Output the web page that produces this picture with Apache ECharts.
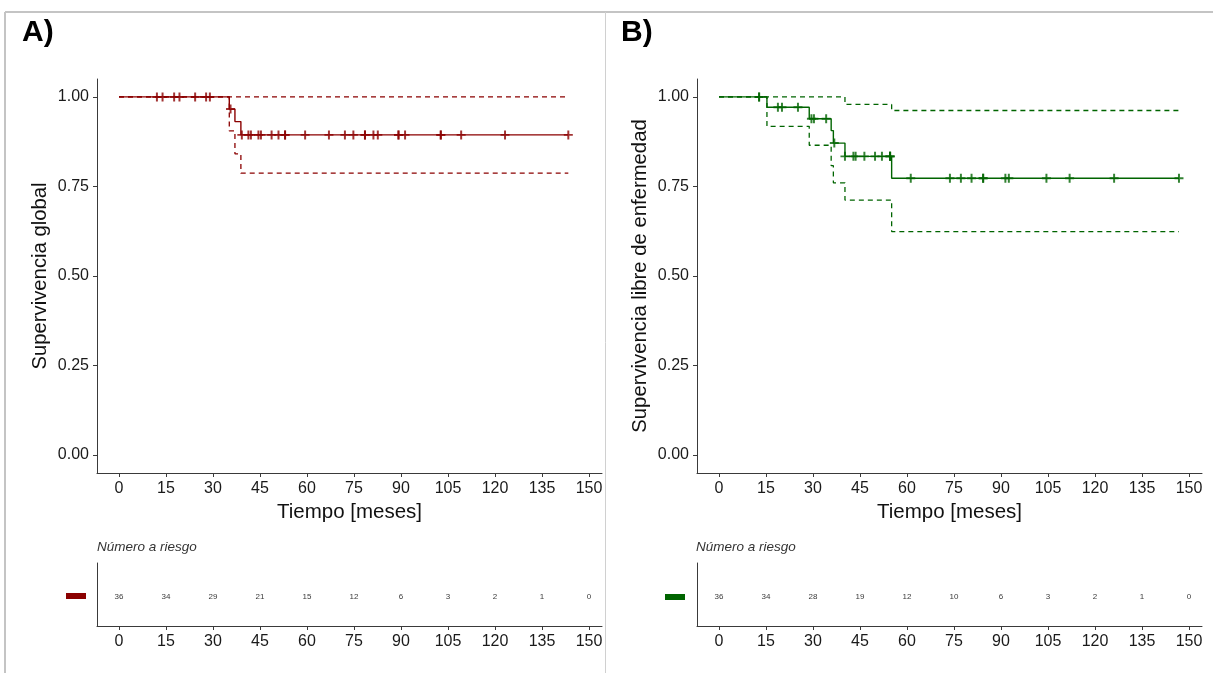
<!DOCTYPE html>
<html><head><meta charset="utf-8">
<script src="https://cdn.jsdelivr.net/npm/echarts@6/dist/echarts.min.js"></script>
<style>html,body{margin:0;padding:0;background:#fff}#c{width:1213px;height:673px}</style>
</head><body><div id="c"></div>
<script>
// ---------- data ----------
const xTicks = [0, 15, 30, 45, 60, 75, 90, 105, 120, 135, 150];
const yTicks = [0, 0.25, 0.5, 0.75, 1];

// A) Supervivencia global
const osSteps = [[0, 1], [35.2, 0.966], [37.0, 0.931], [38.9, 0.894]];
const osLower = [[0, 1], [35.2, 0.905], [37.0, 0.841], [38.9, 0.787]];
const osUpper = [[0, 1]];
const osEnd = 143.4;
const osCensor = [12.1, 13.9, 17.6, 19.3, 24.3, 27.8, 29.0, 35.6, 39.2, 41.3, 42.1, 44.5, 45.3, 48.7, 50.9, 53.0, 53.0,
  59.4, 67.0, 72.1, 74.8, 78.5, 78.5, 81.2, 82.6, 89.2, 89.2, 91.3, 102.7, 102.7, 109.2, 123.2, 143.4];
const osRisk = [36, 34, 29, 21, 15, 12, 6, 3, 2, 1, 0];

// B) Supervivencia libre de enfermedad
const dfsSteps = [[0, 1], [15.3, 0.971], [28.8, 0.939], [35.8, 0.906], [36.5, 0.871], [40.2, 0.834], [55.1, 0.773]];
const dfsLower = [[0, 1], [15.3, 0.918], [28.8, 0.865], [35.8, 0.808], [36.5, 0.760], [40.2, 0.712], [55.1, 0.624]];
const dfsUpper = [[0, 1], [40.2, 0.979], [55.1, 0.962]];
const dfsEnd = 146.8;
const dfsCensor = [12.8, 12.8, 18.8, 20.1, 25.2, 29.5, 30.3, 34.2, 36.8, 40.2, 42.9, 43.6, 46.4, 49.8, 52.0, 54.6, 54.6, 54.6,
  61.2, 73.7, 77.2, 80.6, 84.3, 84.3, 91.4, 92.5, 104.5, 111.9, 126.1, 146.8];
const dfsRisk = [36, 34, 28, 19, 12, 10, 6, 3, 2, 1, 0];

// ---------- helpers ----------
const FONT = '"Liberation Sans", Arial, sans-serif';
const RED = '#8B0000', GREEN = '#006400';
const PX = 470 / 150;                 // pixels per month
const XMIN = -22 / PX, XMAX = (602 - 119) / PX;

function extend(steps, end) { return steps.concat([[end, steps[steps.length - 1][1]]]); }
function stepAt(steps, t) {
  let v = steps[0][1];
  for (const s of steps) { if (s[0] <= t) v = s[1]; }
  return v;
}

function xAxis(gi, named) {
  return {
    type: 'value', gridIndex: gi, min: XMIN, max: XMAX,
    axisLine: { show: true, onZero: false, lineStyle: { color: '#3a3a3a', width: 1 } },
    axisTick: { show: true, customValues: xTicks, length: 4, lineStyle: { color: '#3a3a3a' } },
    axisLabel: { customValues: xTicks, fontSize: 16, color: '#1a1a1a', margin: 8, fontFamily: FONT },
    splitLine: { show: false },
    name: named ? 'Tiempo [meses]' : '', nameLocation: 'middle', nameGap: 29,
    nameTextStyle: { fontSize: 20.5, color: '#111', fontFamily: FONT }
  };
}
function yAxisMain(gi, name) {
  return {
    type: 'value', gridIndex: gi, min: -0.05, max: 1.05,
    axisLine: { show: true, onZero: false, lineStyle: { color: '#3a3a3a', width: 1 } },
    axisTick: { show: true, customValues: yTicks, length: 4, lineStyle: { color: '#3a3a3a' } },
    axisLabel: { customValues: yTicks, fontSize: 16, color: '#1a1a1a', margin: 8, fontFamily: FONT,
      formatter: v => v.toFixed(2) },
    splitLine: { show: false },
    name: name, nameLocation: 'middle', nameGap: 47, nameRotate: 90,
    nameTextStyle: { fontSize: 20.3, color: '#111', fontFamily: FONT }
  };
}
function yAxisRisk(gi) {
  return {
    type: 'value', gridIndex: gi, min: 0, max: 1,
    axisLine: { show: true, onZero: false, lineStyle: { color: '#3a3a3a', width: 1 } },
    axisTick: { show: false }, axisLabel: { show: false }, splitLine: { show: false }
  };
}
const PLUS = 'path://M-0.22,-1 L0.22,-1 L0.22,-0.22 L1,-0.22 L1,0.22 L0.22,0.22 L0.22,1 L-0.22,1 L-0.22,0.22 L-1,0.22 L-1,-0.22 L-0.22,-0.22 Z';

function kmSeries(ax, steps, lower, upper, end, censor, color) {
  const line = (data, dashed) => ({
    type: 'line', xAxisIndex: ax, yAxisIndex: ax, step: 'end', symbol: 'none', silent: true,
    data: extend(data, end), z: dashed ? 2 : 3,
    lineStyle: { color: color, width: dashed ? 1.3 : 1.4, type: dashed ? [5, 4] : 'solid' }
  });
  return [
    line(upper, true), line(lower, true), line(steps, false),
    { type: 'scatter', xAxisIndex: ax, yAxisIndex: ax, symbol: PLUS, symbolSize: 9, z: 4, silent: true,
      itemStyle: { color: color }, data: censor.map(t => [t, stepAt(steps, t)]) }
  ];
}
function riskSeries(ax, risk) {
  return {
    type: 'scatter', xAxisIndex: ax, yAxisIndex: ax, symbolSize: 0, silent: true,
    data: xTicks.map((t, i) => [t, 0.47, risk[i]]),
    label: { show: true, position: 'inside', formatter: p => String(p.data[2]), fontSize: 8, color: '#000', fontFamily: FONT }
  };
}

const chart = echarts.init(document.getElementById('c'), null, { renderer: 'canvas' });
chart.setOption({
  backgroundColor: '#ffffff',
  animation: false,
  grid: [
    { left: 97, top: 79, width: 505, height: 394 },
    { left: 97, top: 563, width: 505, height: 63 },
    { left: 697, top: 79, width: 505, height: 394 },
    { left: 697, top: 563, width: 505, height: 63 }
  ],
  xAxis: [xAxis(0, true), xAxis(1, false), xAxis(2, true), xAxis(3, false)],
  yAxis: [yAxisMain(0, 'Supervivencia global'), yAxisRisk(1), yAxisMain(2, 'Supervivencia libre de enfermedad'), yAxisRisk(3)],
  series: [
    ...kmSeries(0, osSteps, osLower, osUpper, osEnd, osCensor, RED),
    riskSeries(1, osRisk),
    ...kmSeries(2, dfsSteps, dfsLower, dfsUpper, dfsEnd, dfsCensor, GREEN),
    riskSeries(3, dfsRisk)
  ],
  graphic: [
    { type: 'line', shape: { x1: 5, y1: 12, x2: 1213, y2: 12 }, style: { stroke: '#c4c4c4', lineWidth: 2 } },
    { type: 'line', shape: { x1: 5, y1: 12, x2: 5, y2: 673 }, style: { stroke: '#c4c4c4', lineWidth: 2 } },
    { type: 'line', shape: { x1: 605.5, y1: 12, x2: 605.5, y2: 673 }, style: { stroke: '#d0d0d0', lineWidth: 1 } },
    { type: 'text', left: 22, top: 18, style: { text: 'A)', font: 'bold 30px ' + FONT, fill: '#000' } },
    { type: 'text', left: 621, top: 18, style: { text: 'B)', font: 'bold 30px ' + FONT, fill: '#000' } },
    { type: 'text', left: 97, top: 540, style: { text: 'Número a riesgo', font: 'italic 13.5px ' + FONT, fill: '#333' } },
    { type: 'text', left: 696, top: 540, style: { text: 'Número a riesgo', font: 'italic 13.5px ' + FONT, fill: '#333' } },
    { type: 'rect', shape: { x: 66, y: 593, width: 20, height: 6 }, style: { fill: RED } },
    { type: 'rect', shape: { x: 665, y: 594, width: 20, height: 6 }, style: { fill: GREEN } }
  ]
});
</script></body></html>
